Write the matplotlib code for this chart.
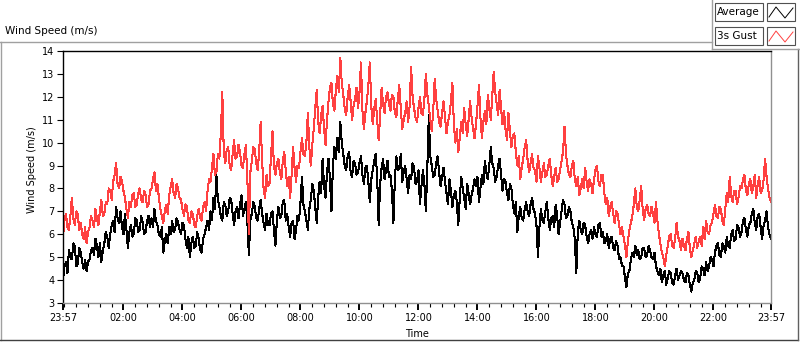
import numpy as np
import matplotlib.pyplot as plt
from matplotlib.patches import Rectangle
from matplotlib.lines import Line2D

# wind speed, one sample every 3 minutes starting 23:57 (one row per hour)
step_min = 3
average = [
    4.0, 4.6, 4.8, 4.3, 5.3, 5.0, 4.9, 5.6, 5.5, 4.6, 4.7, 5.4, 5.2, 4.8, 4.5, 4.9, 4.4, 4.8, 4.9, 5.3,
    5.4, 5.1, 5.8, 5.5, 5.0, 5.6, 4.8, 5.3, 5.6, 6.1, 5.9, 5.4, 6.0, 6.4, 6.6, 6.1, 7.2, 6.7, 6.5, 7.0,
    6.3, 6.0, 6.9, 6.2, 5.4, 6.1, 6.4, 5.9, 6.0, 6.7, 6.6, 6.1, 6.2, 6.8, 6.5, 6.0, 6.1, 6.6, 6.8, 6.3,
    6.7, 6.3, 7.1, 6.6, 6.4, 6.0, 5.9, 6.3, 5.2, 5.7, 6.0, 5.6, 6.3, 6.0, 6.6, 6.1, 6.2, 6.7, 6.5, 6.2,
    6.0, 6.5, 6.4, 5.8, 5.4, 5.9, 5.0, 5.6, 5.9, 5.4, 5.5, 6.1, 5.8, 5.3, 5.2, 5.8, 6.0, 6.3, 6.6, 6.2,
    7.0, 6.6, 7.6, 7.1, 8.6, 7.5, 7.2, 6.8, 6.6, 7.4, 7.3, 6.8, 7.0, 7.6, 7.5, 6.9, 6.4, 7.0, 7.2, 6.7,
    7.3, 7.7, 6.8, 7.1, 7.4, 6.5, 5.1, 6.6, 6.9, 7.4, 7.2, 6.7, 6.6, 7.1, 7.5, 6.9, 6.5, 6.2, 6.9, 6.4,
    6.4, 6.9, 7.0, 6.2, 5.5, 6.6, 7.2, 6.7, 6.8, 7.4, 7.5, 6.6, 6.9, 6.3, 5.9, 6.5, 6.6, 5.8, 6.2, 6.8,
    6.6, 7.4, 8.5, 7.3, 7.0, 6.6, 6.2, 7.1, 7.5, 8.2, 7.9, 7.2, 6.5, 7.6, 8.3, 7.8, 9.3, 8.1, 7.6, 8.7,
    9.3, 8.4, 7.0, 9.0, 9.8, 9.3, 10.2, 9.6, 10.9, 10.0, 9.5, 9.0, 8.8, 9.4, 9.6, 8.7, 8.5, 9.2, 9.1, 8.6,
    8.7, 9.1, 9.4, 8.6, 8.2, 8.9, 9.0, 8.3, 7.4, 8.4, 8.8, 9.2, 9.5, 8.5, 6.4, 8.2, 8.9, 9.3, 8.4, 8.8,
    9.2, 8.5, 8.6, 7.9, 6.5, 8.4, 9.4, 8.8, 8.9, 9.5, 8.3, 8.7, 9.0, 8.4, 7.8, 8.6, 8.4, 9.1, 8.9, 8.2,
    8.3, 8.8, 7.3, 8.1, 8.8, 8.2, 7.0, 8.9, 11.2, 9.4, 9.0, 8.5, 8.6, 9.1, 9.4, 8.7, 8.1, 8.5, 8.9, 8.3,
    7.8, 7.3, 8.4, 7.9, 7.2, 7.7, 7.9, 7.4, 6.4, 7.6, 8.5, 8.0, 7.6, 7.1, 8.2, 7.8, 7.3, 7.7, 8.0, 8.4,
    8.1, 8.5, 7.4, 8.0, 8.6, 8.2, 9.2, 8.7, 8.4, 9.0, 9.8, 9.1, 8.9, 8.3, 8.5, 9.0, 9.3, 8.6, 7.9, 8.4,
    8.3, 7.8, 7.5, 8.2, 8.0, 7.3, 6.9, 7.4, 6.1, 6.8, 7.2, 6.7, 6.6, 7.1, 7.4, 7.0, 6.8, 7.3, 7.6, 7.1,
    6.9, 6.4, 5.0, 6.3, 7.1, 6.6, 6.5, 7.0, 7.4, 6.7, 6.2, 6.7, 6.8, 6.3, 7.3, 6.8, 6.0, 6.5, 7.0, 7.5,
    7.3, 6.7, 6.8, 7.2, 7.0, 6.5, 6.3, 5.8, 4.3, 6.1, 6.6, 6.2, 6.0, 6.5, 6.4, 5.9, 5.6, 6.0, 6.2, 5.8,
    6.3, 6.0, 5.9, 6.4, 6.5, 5.9, 6.1, 5.6, 5.7, 6.0, 5.4, 5.8, 5.9, 5.4, 5.3, 5.7, 5.5, 4.9, 5.0, 4.6,
    4.6, 4.1, 3.7, 4.3, 4.4, 4.9, 5.2, 5.0, 5.5, 5.1, 5.3, 4.9, 5.0, 5.4, 5.4, 5.0, 5.1, 5.5, 5.3, 5.0,
    4.9, 5.2, 4.6, 4.4, 4.2, 4.5, 3.9, 4.2, 4.4, 3.8, 4.1, 4.4, 4.3, 3.9, 3.8, 4.2, 4.5, 4.0, 4.2, 4.4,
    4.3, 4.0, 3.9, 4.3, 4.2, 3.8, 3.5, 3.9, 4.0, 4.4, 4.3, 3.9, 4.1, 4.6, 4.5, 4.2, 4.8, 4.4, 4.6, 5.0,
    4.9, 4.6, 5.2, 5.5, 5.6, 5.1, 5.0, 5.6, 5.5, 5.2, 5.9, 5.5, 5.4, 6.0, 6.2, 5.7, 5.8, 6.4, 6.3, 5.9,
    6.1, 6.6, 6.7, 6.2, 5.9, 6.4, 6.5, 6.9, 7.1, 6.5, 6.2, 6.8, 6.9, 6.3, 5.8, 6.4, 6.6, 7.0, 6.3, 6.0,
    5.8,
]
gust = [
    5.9, 6.6, 6.9, 6.3, 6.2, 6.8, 7.6, 6.7, 6.4, 7.0, 6.9, 6.2, 6.5, 6.0, 5.8, 6.3, 5.6, 6.1, 6.3, 6.8,
    6.6, 6.3, 7.1, 6.7, 6.4, 7.0, 7.5, 6.8, 6.9, 7.4, 7.3, 8.0, 7.9, 7.5, 8.3, 8.6, 9.1, 8.2, 8.0, 8.5,
    8.3, 7.9, 7.6, 7.1, 6.7, 7.4, 7.2, 7.7, 7.8, 7.2, 7.3, 7.8, 8.0, 7.5, 7.4, 7.9, 7.7, 7.2, 7.3, 7.9,
    8.0, 8.4, 8.7, 7.9, 8.2, 7.6, 7.1, 6.8, 6.5, 7.0, 7.3, 6.9, 7.7, 8.1, 8.4, 7.8, 7.6, 8.2, 8.0, 7.6,
    7.5, 7.1, 6.8, 7.3, 7.2, 6.6, 6.5, 7.0, 6.9, 6.4, 6.3, 6.8, 7.1, 6.7, 6.6, 7.2, 7.4, 7.0, 7.9, 8.4,
    8.3, 8.9, 9.5, 8.6, 8.7, 9.5, 9.3, 10.4, 12.2, 9.6, 9.1, 9.7, 9.8, 9.0, 8.8, 9.5, 10.1, 9.3, 9.4, 9.9,
    9.6, 9.0, 8.9, 9.5, 9.9, 8.4, 6.0, 8.7, 9.2, 9.8, 9.7, 9.1, 8.8, 9.6, 10.9, 9.2, 8.0, 7.6, 8.6, 8.1,
    8.2, 9.4, 10.5, 9.0, 8.6, 9.1, 9.3, 8.7, 8.4, 9.2, 9.6, 8.8, 8.1, 8.5, 7.6, 8.6, 9.8, 8.9, 8.3, 9.0,
    8.9, 9.6, 10.2, 9.5, 9.4, 10.0, 11.3, 9.8, 9.0, 9.9, 10.6, 11.5, 12.3, 10.9, 10.4, 11.2, 11.6, 10.6, 9.9, 11.0,
    11.8, 12.4, 12.6, 11.7, 11.4, 12.3, 12.9, 12.2, 13.7, 12.6, 12.1, 11.5, 11.2, 12.0, 12.5, 11.8, 11.0, 11.6, 11.9, 12.4,
    11.5, 12.2, 13.5, 11.4, 10.6, 11.3, 11.8, 12.5, 13.5, 11.6, 10.8, 11.5, 11.9, 11.0, 10.1, 11.2, 12.4, 11.7, 11.3, 12.0,
    12.2, 11.7, 11.4, 12.1, 12.0, 11.3, 11.1, 11.9, 12.5, 11.5, 10.6, 11.0, 11.3, 11.8, 10.9, 11.6, 13.3, 12.0, 11.5, 11.1,
    10.9, 11.5, 12.0, 11.3, 11.2, 11.9, 13.0, 12.1, 11.6, 11.0, 10.5, 11.4, 12.8, 11.9, 11.4, 10.9, 10.7, 11.3, 11.8, 11.1,
    10.4, 10.9, 11.2, 11.8, 12.6, 10.8, 10.0, 10.6, 9.6, 10.2, 10.9, 10.4, 11.5, 10.8, 10.3, 11.0, 11.8, 11.1, 10.6, 10.2,
    10.8, 11.6, 12.5, 11.1, 10.2, 10.9, 11.4, 10.8, 12.1, 11.5, 11.0, 12.0, 13.1, 12.2, 11.7, 11.2, 12.3, 11.5, 10.8, 11.4,
    10.6, 10.1, 11.3, 10.5, 9.8, 10.3, 10.4, 9.6, 9.0, 9.4, 8.4, 8.9, 9.3, 9.8, 10.1, 9.2, 8.7, 9.1, 9.5, 8.9,
    8.8, 8.3, 9.4, 8.9, 8.3, 8.7, 9.1, 8.5, 8.6, 9.0, 9.3, 8.6, 8.1, 8.5, 8.9, 8.3, 8.4, 8.8, 9.2, 9.6,
    10.7, 9.5, 9.0, 8.6, 8.5, 9.0, 9.2, 8.4, 8.1, 8.5, 7.7, 8.0, 8.4, 8.0, 8.9, 8.3, 7.9, 8.4, 8.2, 7.8,
    8.4, 8.8, 9.0, 8.3, 8.1, 8.6, 8.6, 7.8, 7.3, 7.6, 6.8, 7.2, 7.4, 6.9, 6.5, 7.0, 6.9, 6.4, 6.0, 6.3,
    5.9, 5.5, 5.0, 5.7, 6.2, 6.5, 6.8, 7.3, 8.0, 7.2, 7.0, 7.5, 8.1, 7.1, 6.6, 7.1, 7.3, 6.9, 6.8, 7.2,
    6.9, 6.5, 7.4, 6.6, 6.0, 5.6, 5.2, 5.0, 4.6, 5.1, 5.5, 5.9, 6.0, 5.5, 5.4, 5.8, 6.5, 5.9, 5.7, 5.3,
    5.8, 5.5, 5.3, 5.8, 6.1, 5.4, 5.0, 5.3, 5.6, 5.9, 5.4, 5.7, 5.9, 5.5, 6.3, 5.8, 6.6, 6.1, 6.0, 6.4,
    6.5, 6.9, 7.3, 6.8, 6.7, 7.2, 7.1, 6.6, 6.4, 7.1, 7.8, 7.4, 8.5, 7.7, 7.4, 7.9, 7.9, 7.3, 7.6, 8.1,
    8.0, 8.4, 8.6, 7.9, 7.7, 8.2, 8.4, 7.8, 8.1, 8.6, 7.6, 8.2, 8.5, 7.8, 7.9, 8.4, 9.3, 8.5, 8.0, 7.6,
    7.4,
]
assert len(average) == len(gust) == 481

# minutes after 23:57
tick_minutes = [0, 123, 243, 363, 483, 603, 723, 843, 963, 1083, 1203, 1323, 1440]
tick_labels = ['23:57', '02:00', '04:00', '06:00', '08:00', '10:00', '12:00',
               '14:00', '16:00', '18:00', '20:00', '22:00', '23:57']

W, H = 800, 342
plt.rcParams['font.family'] = 'DejaVu Sans'
plt.rcParams['font.size'] = 7
fig = plt.figure(figsize=(W / 100, H / 100), dpi=100)


def fx(x):
    return x / W


def fy(y):
    return 1 - y / H


ax = fig.add_axes([fx(63), fy(303), fx(771) - fx(63), fy(51) - fy(303)])
t = np.arange(len(average)) * step_min
ax.plot(t, average, color='black', lw=0.75, antialiased=False)
ax.plot(t, gust, color='#ff4040', lw=0.75, antialiased=False)
ax.set_xlim(0, 1440)
ax.set_ylim(3, 14)

ax.set_yticks(np.arange(3, 15))
ax.set_xticks(tick_minutes)
ax.set_xticklabels(tick_labels)
minor = [m for m in range(3, 1440, 24) if m not in tick_minutes]
ax.set_xticks(minor, minor=True)
ax.tick_params(axis='both', which='major', length=4, width=0.8, pad=2, labelsize=7)
ax.tick_params(axis='x', which='major', length=5, width=1.4)
ax.tick_params(axis='x', which='minor', length=3, width=0.8)

for side in ['top', 'left']:
    ax.spines[side].set_color('black')
    ax.spines[side].set_linewidth(1.0)
for side in ['bottom', 'right']:
    ax.spines[side].set_color('#909090')
    ax.spines[side].set_linewidth(1.0)

fig.text(fx(32), fy(170), 'Wind Speed (m/s)', rotation=90, ha='center', va='center')
fig.text(fx(417), fy(334), 'Time', ha='center', va='center')
fig.text(fx(5), fy(31), 'Wind Speed (m/s)', ha='left', va='center', fontsize=7.5)


def fig_line(xs, ys, color, lw=1.0):
    fig.add_artist(Line2D([fx(x) for x in xs], [fy(y) for y in ys],
                          transform=fig.transFigure, color=color, lw=lw))


# panel frame
fig_line([0, 712], [42, 42], '#a0a0a0')
fig_line([0.5, 0.5], [42, 340], '#a0a0a0')
fig_line([0, 798], [340, 340], '#404040')
fig_line([798, 798], [49, 340], '#606060')
fig_line([712, 712], [0, 49], '#a0a0a0')
fig_line([712, 800], [49, 49], '#a0a0a0')

# legend
for y0, name, col in [(3, 'Average', 'black'), (27, '3s Gust', '#ff4040')]:
    fig.add_artist(Rectangle((fx(715), fy(y0 + 18)), fx(48), 18 / H,
                             transform=fig.transFigure, facecolor='white',
                             edgecolor='#505050', lw=0.8))
    fig.add_artist(Rectangle((fx(767), fy(y0 + 18)), fx(28), 18 / H,
                             transform=fig.transFigure, facecolor='white',
                             edgecolor='#505050', lw=0.8))
    fig.text(fx(717), fy(y0 + 9), name, ha='left', va='center', fontsize=7.5)
    fig_line([769, 776, 785, 793], [y0 + 14, y0 + 4, y0 + 15, y0 + 5], col, lw=0.7)

fig.savefig('out.png', dpi=100)
